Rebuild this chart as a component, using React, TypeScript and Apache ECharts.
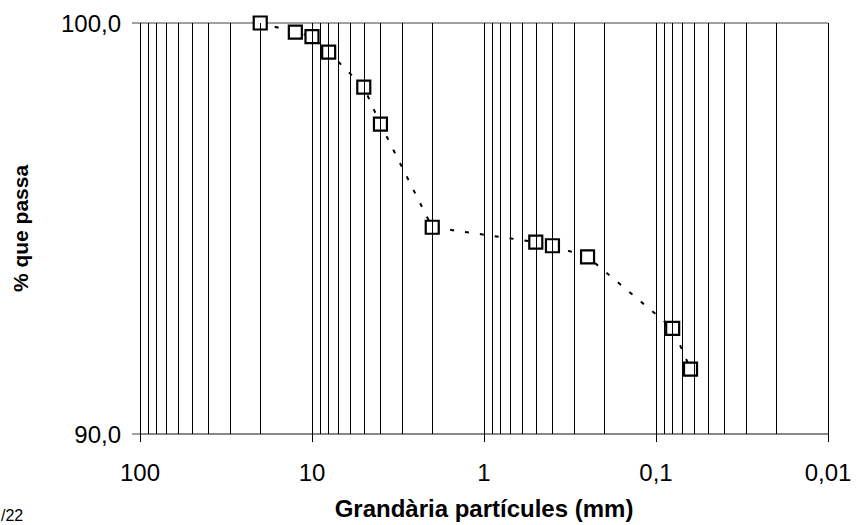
import React, { useEffect, useRef } from "react";
import * as echarts from "echarts";

// Particle sizes (mm) and % passing
const sizes = [20, 12.5, 10, 8, 5, 4, 2, 0.5, 0.4, 0.25, 0.08, 0.063];
const passing = [100.0, 99.78, 99.67, 99.29, 98.44, 97.54, 95.03, 94.67, 94.58, 94.31, 92.57, 91.58];

const xTickLabels = ["0,01", "0,1", "1", "10", "100"];
const decades = [0.01, 0.1, 1, 10];
const multipliers = [1, 2, 3, 4, 5, 6, 7, 8, 9];

const xTitle = "Grandària partícules (mm)";
const yTitle = "% que passa";
const cornerText = "/22";

export default function App() {
  const ref = useRef<HTMLDivElement>(null);
  useEffect(() => {
    if (!ref.current) return;
    const chart = echarts.init(ref.current, null, { renderer: "svg" });
    const gridValues: number[] = [];
    decades.forEach((d) => multipliers.forEach((m) => gridValues.push(+(d * m).toPrecision(3))));
    gridValues.push(100);
    const font = "'Liberation Sans', Arial, sans-serif";
    chart.setOption({
      animation: false,
      backgroundColor: "#fff",
      grid: {
        left: 140,
        right: 36,
        top: 23,
        bottom: 91,
        containLabel: false,
        outerBoundsMode: "none",
      },
      xAxis: {
        type: "log",
        logBase: 10,
        min: 0.01,
        max: 100,
        interval: 1,
        inverse: true,
        name: xTitle,
        nameLocation: "middle",
        nameGap: 62,
        nameTextStyle: { fontFamily: font, fontSize: 24, fontWeight: "bold", color: "#000" },
        axisLine: { show: true, lineStyle: { color: "#808080", width: 1.5 } },
        axisTick: { show: true, length: 8, lineStyle: { color: "#000", width: 1 } },
        axisLabel: {
          margin: 26,
          fontFamily: font,
          fontSize: 24,
          color: "#000",
          formatter: (v: number) => xTickLabels[Math.round(Math.log10(v)) + 2],
        },
        splitLine: { show: false },
        minorTick: { show: false },
      },
      yAxis: {
        type: "value",
        min: 90,
        max: 100,
        interval: 10,
        name: yTitle,
        nameLocation: "middle",
        nameGap: 109,
        nameRotate: 90,
        nameTextStyle: { fontFamily: font, fontSize: 21, fontWeight: "bold", color: "#000" },
        axisLine: { show: false },
        axisTick: { show: true, length: 8, lineStyle: { color: "#808080", width: 1.5 } },
        axisLabel: {
          margin: 19,
          fontFamily: font,
          fontSize: 24,
          color: "#000",
          formatter: (v: number) => v.toFixed(1).replace(".", ","),
        },
        splitLine: { show: true, lineStyle: { color: "#808080", width: 1.5 } },
      },
      graphic: [
        {
          type: "text",
          x: 1,
          y: 523,
          style: {
            text: cornerText,
            fontFamily: font,
            fontSize: 16,
            fill: "#000",
            verticalAlign: "bottom",
            align: "left",
          },
        },
      ],
      series: [
        {
          type: "line",
          z: 1,
          silent: true,
          data: sizes.map((s, i) => [s, passing[i]]),
          symbol: "none",
          lineStyle: { width: 0, opacity: 0 },
          markLine: {
            silent: true,
            symbol: "none",
            label: { show: false },
            lineStyle: { color: "#000", width: 1, type: "solid" },
            data: gridValues.map((v) => ({ xAxis: v })),
          },
        },
        {
          type: "line",
          z: 3,
          data: sizes.map((s, i) => [s, passing[i]]),
          symbol: "rect",
          symbolSize: 13,
          showAllSymbol: true,
          itemStyle: { color: "#fff", borderColor: "#000", borderWidth: 2.2 },
          lineStyle: { color: "#000", width: 2, type: [4, 11] },
        },
      ],
    });
    return () => chart.dispose();
  }, []);
  return (
    <div
      ref={ref}
      style={{ position: "fixed", left: 0, top: 0, width: 864, height: 525 }}
    />
  );
}
